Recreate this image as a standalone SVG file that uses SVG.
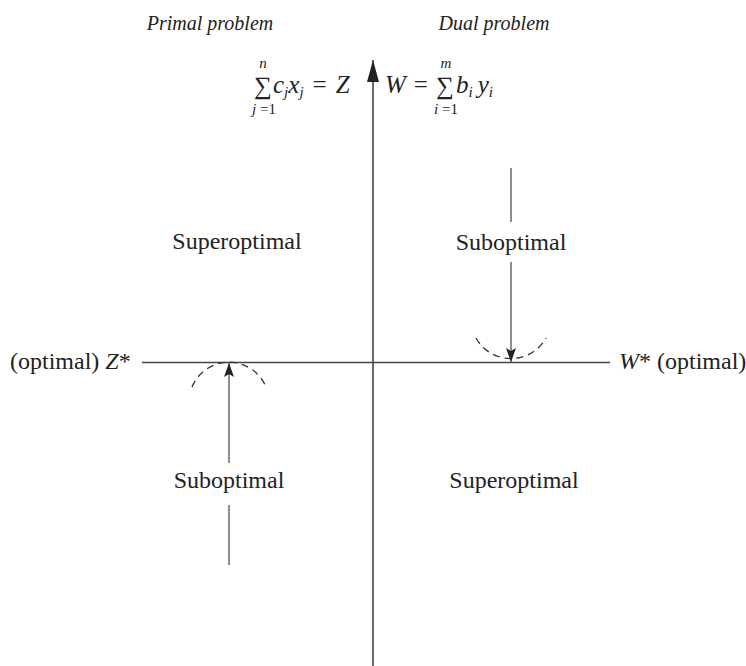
<svg xmlns="http://www.w3.org/2000/svg" width="746" height="666" viewBox="0 0 746 666">
<defs>
<style>
.t{font-family:"Liberation Serif","Times New Roman",serif;font-size:24px;fill:#222}
.h{font-family:"Liberation Serif","Times New Roman",serif;font-size:20px;font-style:italic;fill:#222}
.m{font-family:"Liberation Serif","Times New Roman",serif;font-size:25px;fill:#222}
.i{font-style:italic}
.s{font-family:"Liberation Serif","Times New Roman",serif;font-size:15px;font-style:italic;fill:#222}
.ax{stroke:#444;stroke-width:1.6;fill:none}
.ar{stroke:#444;stroke-width:1.2;fill:none}
.da{stroke:#333;stroke-width:1.3;fill:none;stroke-dasharray:7 5}
</style>
<marker id="ah" viewBox="0 0 14 10" refX="14" refY="5" markerWidth="14" markerHeight="10" markerUnits="userSpaceOnUse" orient="auto">
<path d="M0,0 L14,5 L0,10 L3,5 Z" fill="#222"/>
</marker>
<marker id="ahb" viewBox="0 0 22 12" refX="22" refY="6" markerWidth="22" markerHeight="12" markerUnits="userSpaceOnUse" orient="auto">
<path d="M0,0 L22,6 L0,12 Z" fill="#222"/>
</marker>
</defs>
<rect width="746" height="666" fill="#fff"/>

<g id="connectors">
<line id="v-axis" class="ax" x1="373" y1="666" x2="373" y2="60" marker-end="url(#ahb)"/>
<line id="h-axis" class="ax" x1="142" y1="362.5" x2="610" y2="362.5"/>
<line class="ar" x1="229" y1="565" x2="229" y2="505"/>
<line class="ar" x1="229" y1="463" x2="229" y2="363" marker-end="url(#ah)"/>
<line class="ar" x1="511" y1="168" x2="511" y2="222"/>
<line class="ar" x1="511" y1="262" x2="511" y2="362" marker-end="url(#ah)"/>
<path class="da" d="M192,387 A40,40 0 0 1 266,387"/>
<path class="da" d="M476,338 A40,40 0 0 0 546,338"/>
</g>

<g id="header-primal"><text class="h" x="210" y="30" text-anchor="middle">Primal problem</text></g>
<g id="header-dual"><text class="h" x="494" y="30" text-anchor="middle">Dual problem</text></g>

<g id="formula-primal">
<text class="m" x="263" y="94" text-anchor="middle" font-size="26">∑</text>
<text class="s" x="263" y="68" text-anchor="middle">n</text>
<text class="s" x="264" y="114" text-anchor="middle">j<tspan font-style="normal"> =1</tspan></text>
<text class="m" x="273" y="93"><tspan class="i">c</tspan><tspan class="s" dy="4">j</tspan><tspan class="i" dy="-4">x</tspan><tspan class="s" dy="4">j</tspan><tspan dy="-4" dx="9">=</tspan><tspan class="i" dx="9">Z</tspan></text>
</g>

<g id="formula-dual">
<text class="m" x="385" y="93"><tspan class="i">W</tspan><tspan dx="8">=</tspan></text>
<text class="m" x="445" y="94" text-anchor="middle" font-size="26">∑</text>
<text class="s" x="446" y="68" text-anchor="middle">m</text>
<text class="s" x="446" y="114" text-anchor="middle">i<tspan font-style="normal"> =1</tspan></text>
<text class="m" x="456" y="93"><tspan class="i">b</tspan><tspan class="s" dy="4">i</tspan><tspan class="i" dy="-4" dx="5">y</tspan><tspan class="s" dy="4">i</tspan></text>
</g>

<g id="superoptimal-primal"><text class="t" x="237" y="249" text-anchor="middle">Superoptimal</text></g>
<g id="suboptimal-dual"><text class="t" x="511" y="250" text-anchor="middle">Suboptimal</text></g>
<g id="optimal-z"><text class="t" x="10" y="369">(optimal) <tspan class="i">Z</tspan>*</text></g>
<g id="optimal-w"><text class="t" x="619" y="369"><tspan class="i">W</tspan>* (optimal)</text></g>
<g id="suboptimal-primal"><text class="t" x="229" y="488" text-anchor="middle">Suboptimal</text></g>
<g id="superoptimal-dual"><text class="t" x="514" y="488" text-anchor="middle">Superoptimal</text></g>
</svg>
